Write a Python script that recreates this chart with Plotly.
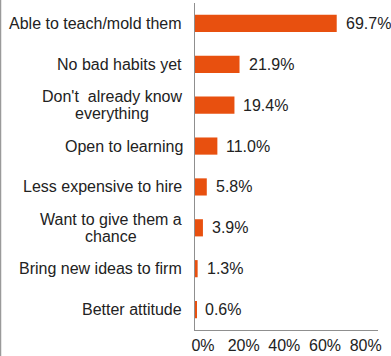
import plotly.graph_objects as go

# Reasons for hiring recent graduates (share of respondents)
categories = [
    "Able to teach/mold them",
    "No bad habits yet",
    "Don't  already know<br>everything",
    "Open to learning",
    "Less expensive to hire",
    "Want to give them a<br>chance",
    "Bring new ideas to firm",
    "Better attitude",
]
shares = [0.697, 0.219, 0.194, 0.110, 0.058, 0.039, 0.013, 0.006]
tick_values = [0, 0.2, 0.4, 0.6, 0.8]
tick_labels = ["0%", "20%", "40%", "60%", "80%"]

W, H = 391, 356
ML, MR, MT, MB = 195, 13, 3, 26
BAR_COLOR = "#E8500F"
TEXT_COLOR = "#222222"
AXIS_COLOR = "#8f8f8f"
FONT = "Liberation Sans, Arial, sans-serif"


def text_width(s, size=16):
    # approximate Arial advance widths, used to centre wrapped labels
    w = {"A": .667, "B": .667, "D": .667, "L": .556, "N": .722, "O": .667,
         "W": .944, " ": .278, "'": .191, "/": .278, "i": .222, "l": .222,
         "t": .278, "f": .278, "r": .333, "j": .222, "m": .833, "w": .722,
         "c": .5, "k": .5, "s": .5, "v": .5, "y": .5, "x": .5, "z": .5}
    return sum(w.get(ch, .556) for ch in s) * size


fig = go.Figure(
    go.Bar(
        x=shares,
        y=categories,
        orientation="h",
        marker=dict(color=BAR_COLOR, line=dict(width=0)),
        hoverinfo="skip",
    )
)

annotations = []
# Category labels: each block right-aligned to the axis, lines centred in it
for cat in categories:
    lines = cat.split("<br>")
    n = len(lines)
    widest = max(text_width(l) for l in lines)
    for i, line in enumerate(lines):
        annotations.append(dict(
            x=0, xref="paper", y=cat, yref="y",
            text=line, showarrow=False,
            xanchor="center", yanchor="middle",
            xshift=-13 - widest / 2,
            yshift=(n - 1) * 8.5 - i * 17,
            font=dict(size=16, color=TEXT_COLOR, family=FONT),
        ))

# Value labels just beyond each bar end
for cat, v in zip(categories, shares):
    annotations.append(dict(
        x=v, xref="x", y=cat, yref="y",
        text=f"{v * 100:.1f}%", showarrow=False,
        xanchor="left", yanchor="middle", xshift=7,
        font=dict(size=16, color=TEXT_COLOR, family=FONT),
    ))

plot_w = W - ML - MR
plot_h = H - MT - MB
fig.update_layout(
    width=W, height=H,
    margin=dict(l=ML, r=MR, t=MT, b=MB, pad=0),
    paper_bgcolor="white", plot_bgcolor="white",
    showlegend=False,
    bargap=0.58,
    font=dict(family=FONT, color=TEXT_COLOR),
    annotations=annotations,
    shapes=[dict(
        type="line", xref="paper", yref="paper",
        x0=(0.5 - ML) / plot_w, x1=(0.5 - ML) / plot_w,
        y0=-MB / plot_h, y1=1 + MT / plot_h,
        line=dict(color="#9a9a9a", width=1.5),
    )],
)
fig.update_xaxes(
    range=[0, 0.9],
    tickvals=tick_values, ticktext=tick_labels,
    showgrid=False, zeroline=False,
    showline=True, linecolor=AXIS_COLOR, linewidth=1,
    ticks="", tickfont=dict(size=16, color=TEXT_COLOR, family=FONT),
    ticklabelshift=8, ticklabelstandoff=1,
    automargin=False, fixedrange=True,
)
fig.update_yaxes(
    autorange="reversed",
    showticklabels=False, ticks="",
    showgrid=False, zeroline=False,
    showline=True, linecolor=AXIS_COLOR, linewidth=1,
    automargin=False, fixedrange=True,
)

fig.write_html("out.html", config={"displayModeBar": False})
